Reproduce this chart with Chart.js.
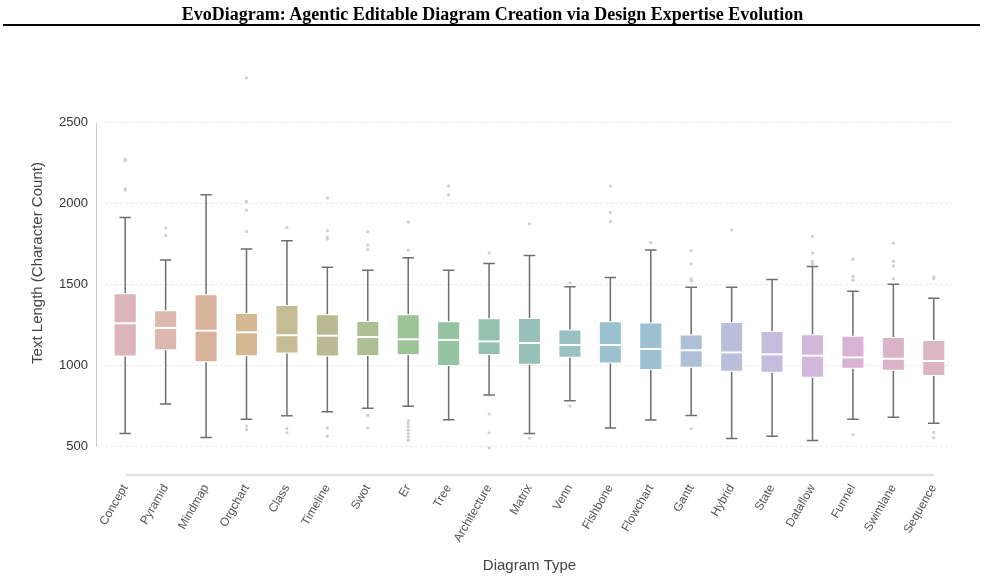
<!DOCTYPE html>
<html>
<head>
<meta charset="utf-8">
<script src="https://cdn.jsdelivr.net/npm/chart.js@4"></script>
<style>
  html, body { margin: 0; padding: 0; background: #fff; }
  #wrap { position: relative; width: 985px; height: 581px; }
  #head {
    position: absolute; top: 3px; left: 0; width: 985px;
    text-align: center; font: bold 18px "Liberation Serif", "Times New Roman", serif;
    line-height: 22px; color: #000;
  }
  #rule { position: absolute; top: 24px; left: 3px; right: 5px; height: 2px; background: #000; }
  canvas { position: absolute; top: 0; left: 0; }
</style>
</head>
<body>
<div id="wrap">
  <canvas id="chart" width="985" height="581"></canvas>
  <div id="head">EvoDiagram: Agentic Editable Diagram Creation via Design Expertise Evolution</div>
  <div id="rule"></div>
</div>
<script>
const categories = ["Concept", "Pyramid", "Mindmap", "Orgchart", "Class", "Timeline", "Swot", "Er", "Tree",
    "Architecture", "Matrix", "Venn", "Fishbone", "Flowchart", "Gantt", "Hybrid", "State", "Dataflow",
    "Funnel", "Swimlane", "Sequence"];
const whiskerLow = [582, 764, 558, 671, 692, 716, 739, 751, 667, 820, 582, 784, 617, 665, 694, 552, 566, 539, 671, 683, 646];
const q1 = [1057, 1096, 1022, 1059, 1077, 1057, 1061, 1067, 999, 1067, 1007, 1050, 1015, 974, 989, 964, 958, 927, 982, 970, 937];
const median = [1263, 1234, 1217, 1207, 1189, 1186, 1178, 1164, 1160, 1151, 1141, 1129, 1129, 1104, 1096, 1083, 1071, 1063, 1052, 1044, 1030];
const q3 = [1448, 1343, 1442, 1327, 1376, 1318, 1277, 1318, 1275, 1294, 1296, 1224, 1275, 1267, 1193, 1271, 1215, 1195, 1186, 1178, 1160];
const whiskerHigh = [1916, 1654, 2056, 1722, 1772, 1609, 1590, 1667, 1590, 1632, 1681, 1489, 1545, 1716, 1485, 1485, 1533, 1613, 1461, 1504, 1417];
const outliers = [
    [2276, 2266, 2093, 2085],
    [1852, 1805],
    [],
    [2777, 2015, 1962, 1830, 628, 607],
    [1854, 613, 587],
    [2036, 1834, 1795, 1782, 617, 566],
    [1828, 1747, 1718, 694, 617],
    [1887, 1714, 661, 644, 624, 603, 582, 562, 541],
    [2110, 2056],
    [1698, 702, 587, 494],
    [1877, 554],
    [1514, 752],
    [2110, 1947, 1892],
    [1762],
    [1712, 1630, 1537, 1525, 613],
    [1840],
    [],
    [1799, 1696, 1644, 1628],
    [1657, 1553, 1529, 576],
    [1757, 1646, 1617, 1537],
    [1549, 1537, 589, 556]
];
const yTicks = [500, 1000, 1500, 2000, 2500];

const palette = ['#dbb5ba', '#dcb7ae', '#d9b39d', '#d4b891', '#c5bb95', '#b9ba91', '#adc093', '#9dc497',
    '#94c3a2', '#94c2af', '#97c1b8', '#99c1c3', '#9bc1cd', '#9dc0d2', '#adc0d8', '#b9bfdb', '#c5bbdc',
    '#d1b7da', '#d9b3d3', '#dab3c8', '#dbb5c1'];

const boxParts = {
    id: 'boxParts',
    beforeDatasetsDraw(chart) {
        const ctx = chart.ctx, y = chart.scales.y;
        const bars = chart.getDatasetMeta(0).data;
        ctx.save();
        ctx.strokeStyle = '#6e6e6e';
        ctx.lineWidth = 1.5;
        bars.forEach((bar, i) => {
            const cap = bar.width / 4;
            ctx.beginPath();
            ctx.moveTo(bar.x, y.getPixelForValue(q3[i]));
            ctx.lineTo(bar.x, y.getPixelForValue(whiskerHigh[i]));
            ctx.moveTo(bar.x, y.getPixelForValue(q1[i]));
            ctx.lineTo(bar.x, y.getPixelForValue(whiskerLow[i]));
            ctx.moveTo(bar.x - cap, y.getPixelForValue(whiskerHigh[i]));
            ctx.lineTo(bar.x + cap, y.getPixelForValue(whiskerHigh[i]));
            ctx.moveTo(bar.x - cap, y.getPixelForValue(whiskerLow[i]));
            ctx.lineTo(bar.x + cap, y.getPixelForValue(whiskerLow[i]));
            ctx.stroke();
        });
        ctx.restore();
    },
    afterDatasetsDraw(chart) {
        const ctx = chart.ctx, y = chart.scales.y, area = chart.chartArea;
        const bars = chart.getDatasetMeta(0).data;
        ctx.save();
        // medians
        ctx.strokeStyle = '#ffffff';
        ctx.lineWidth = 2;
        bars.forEach((bar, i) => {
            const py = y.getPixelForValue(median[i]);
            ctx.beginPath();
            ctx.moveTo(bar.x - bar.width / 2, py);
            ctx.lineTo(bar.x + bar.width / 2, py);
            ctx.stroke();
        });
        // outliers
        ctx.fillStyle = '#c9d0d6';
        bars.forEach((bar, i) => {
            outliers[i].forEach(v => {
                ctx.beginPath();
                ctx.arc(bar.x, y.getPixelForValue(v), 1.6, 0, Math.PI * 2);
                ctx.fill();
            });
        });
        // trimmed spines
        ctx.strokeStyle = '#cccccc';
        ctx.lineWidth = 1;
        ctx.beginPath();
        ctx.moveTo(area.left - 8.5, y.getPixelForValue(yTicks[0]));
        ctx.lineTo(area.left - 8.5, y.getPixelForValue(yTicks[yTicks.length - 1]));
        ctx.stroke();
        ctx.strokeStyle = '#e2e2e2';
        ctx.lineWidth = 2.5;
        ctx.beginPath();
        ctx.moveTo(bars[0].x, area.bottom - 1);
        ctx.lineTo(bars[bars.length - 1].x, area.bottom - 1);
        ctx.stroke();
        ctx.restore();
    }
};

const config = {
    type: 'bar',
    data: {
        labels: categories,
        datasets: [{
            data: categories.map((c, i) => [q1[i], q3[i]]),
            backgroundColor: palette,
            borderColor: 'rgba(255,255,255,0.6)',
            borderWidth: 1,
            borderSkipped: false,
            barPercentage: 0.57,
            categoryPercentage: 1.0
        }]
    },
    options: {
        responsive: false,
        animation: false,
        layout: { padding: { top: 50, right: 31, left: 0, bottom: 0 } },
        plugins: {
            legend: { display: false },
            tooltip: { enabled: false }
        },
        scales: {
            x: {
                grid: { display: false },
                border: { display: false },
                ticks: {
                    autoSkip: false,
                    minRotation: 60,
                    maxRotation: 60,
                    padding: -2,
                    color: '#555555',
                    font: { family: '"Liberation Sans", Arial, sans-serif', size: 12 }
                },
                title: {
                    display: true,
                    text: 'Diagram Type',
                    color: '#444444',
                    padding: { top: 0, bottom: 6 },
                    font: { family: '"Liberation Sans", Arial, sans-serif', size: 15 }
                },
                afterFit(scale) { scale.height = 105; }
            },
            y: {
                min: 320,
                max: 2950,
                afterBuildTicks(scale) { scale.ticks = yTicks.map(v => ({ value: v })); },
                grid: { color: '#ececec', drawTicks: false, lineWidth: 1 },
                border: { display: false, dash: [3, 2] },
                ticks: {
                    padding: 17,
                    color: '#333333',
                    callback: v => String(v),
                    font: { family: '"Liberation Sans", Arial, sans-serif', size: 13 }
                },
                title: {
                    display: true,
                    text: 'Text Length (Character Count)',
                    color: '#444444',
                    padding: { top: 29, bottom: 0 },
                    font: { family: '"Liberation Sans", Arial, sans-serif', size: 15 }
                },
                afterFit(scale) { scale.width = 105; }
            }
        }
    },
    plugins: [boxParts]
};

new Chart(document.getElementById('chart'), config);
</script>
</body>
</html>
